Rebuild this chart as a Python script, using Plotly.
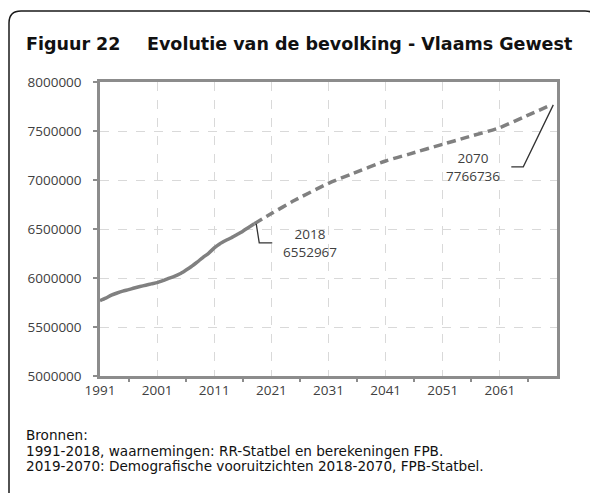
import plotly.graph_objects as go

# ---------------- data ----------------
years_obs = list(range(1991, 2019))
pop_obs = [5768925, 5794000, 5825000, 5847000, 5866000, 5881000, 5898000, 5913000,
           5926000, 5940000, 5952552, 5973000, 5996000, 6016000, 6043000, 6079000,
           6117000, 6162000, 6209000, 6252000, 6306638, 6350000, 6382000, 6411000,
           6444000, 6478000, 6516000, 6552967]

years_proj = [2018, 2021, 2025, 2031, 2035, 2041, 2045, 2051, 2055, 2061, 2065, 2070]
pop_proj = [6552967, 6657000, 6790000, 6966000, 7060000, 7194000, 7262000, 7365000,
            7432000, 7535000, 7638000, 7766736]

xtick_vals = [1991, 2001, 2011, 2021, 2031, 2041, 2051, 2061]
xtick_text = ["1991", "2001", "2011", "2021", "2031", "2041", "2051", "2061"]
xminor_vals = [1996, 2006, 2016, 2026, 2036, 2046, 2056, 2066]
ytick_vals = [5000000, 5500000, 6000000, 6500000, 7000000, 7500000, 8000000]
ytick_text = ["5000000", "5500000", "6000000", "6500000", "7000000", "7500000", "8000000"]

title_num = "Figuur 22"
title_txt = "Evolutie van de bevolking - Vlaams Gewest"
source_lines = ["Bronnen:",
                "1991-2018, waarnemingen: RR-Statbel en berekeningen FPB.",
                "2019-2070: Demografische vooruitzichten 2018-2070, FPB-Statbel."]

# ---------------- layout geometry (figure pixels; page = figure + 8px body margin) ----------------
W, H = 590, 485
L, R, T, B = 92, 549, 74, 368
PW, PH = R - L, B - T


def px(x):
    return (x - L) / PW


def py(y):
    return (B - y) / PH


LINE_COL = "#808080"
AXIS_COL = "#8c8c8c"
GRID_COL = "#d9d9d9"
TXT_COL = "#404040"

fig = go.Figure()
fig.add_trace(go.Scatter(x=years_obs, y=pop_obs, mode="lines",
                         line=dict(color=LINE_COL, width=3.5, shape="spline", smoothing=0.6),
                         hoverinfo="skip", showlegend=False))
fig.add_trace(go.Scatter(x=years_proj, y=pop_proj, mode="lines",
                         line=dict(color=LINE_COL, width=3.5, dash="9px,5px", shape="spline", smoothing=0.6),
                         hoverinfo="skip", showlegend=False))

fig.update_layout(
    width=W, height=H,
    margin=dict(l=L, r=W - R, t=T, b=H - B),
    paper_bgcolor="white", plot_bgcolor="white",
    font=dict(family="Open Sans", size=13, color=TXT_COL),
    xaxis=dict(range=[1991, 2071], tickmode="array", tickvals=xtick_vals, ticktext=xtick_text,
               showgrid=True, gridcolor=GRID_COL, griddash="dash", gridwidth=1,
               showline=True, linecolor=AXIS_COL, linewidth=2.5, mirror=True,
               ticks="", zeroline=False,
               minor=dict(tickmode="array", tickvals=xminor_vals, ticks="outside",
                          ticklen=3, tickcolor=AXIS_COL, tickwidth=1.5, showgrid=False),
               tickfont=dict(family="Open Sans", size=13.5, color=TXT_COL)),
    yaxis=dict(range=[5000000, 8000000], tickmode="array", tickvals=ytick_vals, ticktext=ytick_text,
               showgrid=True, gridcolor=GRID_COL, griddash="dash", gridwidth=1,
               showline=True, linecolor=AXIS_COL, linewidth=2.5, mirror=True,
               ticks="outside", ticklen=4, tickcolor=AXIS_COL, tickwidth=1.5,
               ticklabelstandoff=9, zeroline=False,
               tickfont=dict(family="Open Sans", size=13.5, color=TXT_COL)),
)

shapes = []
# outer rounded frame
x0, y0, x1, y1, r = 1, 3, 589, 500, 12
path = (f"M{px(x0)},{py(y1)} L{px(x0)},{py(y0 + r)} Q{px(x0)},{py(y0)} {px(x0 + r)},{py(y0)} "
        f"L{px(x1 - r)},{py(y0)} Q{px(x1)},{py(y0)} {px(x1)},{py(y0 + r)} L{px(x1)},{py(y1)}")
shapes.append(dict(type="path", xref="paper", yref="paper", path=path,
                   line=dict(color="#1a1a1a", width=1.5), layer="above"))
# leader lines (pixel offsets anchored at data points)
shapes.append(dict(type="path", xref="x", yref="y", xsizemode="pixel", ysizemode="pixel",
                   xanchor=years_obs[-1], yanchor=pop_obs[-1],
                   path="M2,0 L5,-19 L18,-19", line=dict(color="#333333", width=1.3)))
shapes.append(dict(type="path", xref="x", yref="y", xsizemode="pixel", ysizemode="pixel",
                   xanchor=years_proj[-1], yanchor=pop_proj[-1],
                   path="M2,0 L-28,-62 L-40,-62", line=dict(color="#333333", width=1.3)))
fig.update_layout(shapes=shapes)

ann = []
ann.append(dict(xref="paper", yref="paper", x=px(16), y=py(36), xanchor="left", yanchor="middle",
                text=title_num, showarrow=False,
                font=dict(family="DejaVu Sans", size=17.5, color="#111111", weight="bold")))
ann.append(dict(xref="paper", yref="paper", x=px(137), y=py(36), xanchor="left", yanchor="middle",
                text=title_txt, showarrow=False,
                font=dict(family="DejaVu Sans", size=17.5, color="#111111", weight="bold")))
for i, line in enumerate(source_lines):
    ann.append(dict(xref="paper", yref="paper", x=px(16), y=py(427 + 15.5 * i),
                    xanchor="left", yanchor="middle",
                    text=line, showarrow=False, align="left",
                    font=dict(family="DejaVu Sans", size=13.6, color="#111111")))
ann.append(dict(xref="x", yref="y", x=years_obs[-1], y=pop_obs[-1], xshift=56, yshift=-19,
                text=f"{years_obs[-1]}<br>{pop_obs[-1]}", showarrow=False, align="center",
                font=dict(family="Open Sans", size=13.5, color=TXT_COL)))
ann.append(dict(xref="x", yref="y", x=years_proj[-1], y=pop_proj[-1], xshift=-78, yshift=-62,
                text=f"{years_proj[-1]}<br>{pop_proj[-1]}", showarrow=False, align="center",
                font=dict(family="Open Sans", size=13.5, color=TXT_COL)))
fig.update_layout(annotations=ann)

fig.write_html("out.html")
